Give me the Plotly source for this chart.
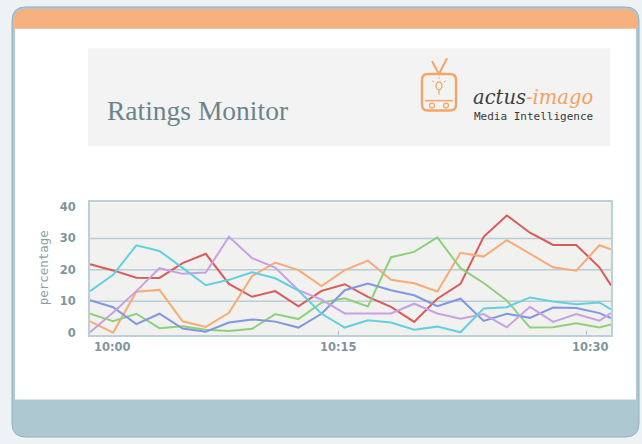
import plotly.graph_objects as go

# ---------------- data ----------------
times = ["10:00:00", "10:01:24", "10:02:48", "10:04:12", "10:05:36", "10:07:00",
         "10:08:24", "10:09:48", "10:11:12", "10:12:36", "10:14:00", "10:15:24",
         "10:16:48", "10:18:12", "10:19:36", "10:21:00", "10:22:24", "10:23:48",
         "10:25:12", "10:26:36", "10:28:00", "10:29:24", "10:30:48", "10:31:30"]

red    = [21.8, 19.8, 17.5, 17.4, 22.1, 25.1, 15.5, 11.4, 13.2, 8.4, 13.3, 15.4,
          11.4, 8.2, 3.4, 10.8, 15.5, 30.5, 37.3, 31.8, 27.9, 27.9, 20.8, 15.0]
orange = [3.6, 0.0, 13.0, 13.6, 3.6, 1.8, 6.3, 18.0, 22.3, 19.9, 14.8, 19.9,
          22.9, 16.8, 15.7, 13.1, 25.4, 24.2, 29.4, 25.2, 20.8, 19.7, 27.8, 26.5]
green  = [6.0, 3.6, 6.0, 1.4, 2.0, 0.9, 0.5, 1.2, 5.9, 4.3, 9.5, 10.9,
          8.3, 24.0, 25.7, 30.3, 20.5, 15.8, 10.2, 1.6, 1.7, 3.0, 1.6, 2.6]
blue   = [10.3, 8.1, 2.7, 6.0, 1.3, 0.3, 3.2, 4.2, 3.5, 1.6, 6.0, 13.5,
          15.6, 13.5, 11.9, 8.4, 10.8, 3.7, 6.0, 4.7, 8.0, 7.8, 6.2, 4.6]
purple = [0.1, 6.4, 13.2, 20.5, 18.7, 19.1, 30.5, 23.7, 20.7, 13.5, 10.5, 6.1,
          6.1, 6.1, 9.2, 6.1, 4.4, 5.9, 1.7, 8.2, 3.4, 5.9, 3.8, 6.2]
cyan   = [13.2, 18.4, 27.8, 26.0, 20.6, 15.1, 16.8, 19.2, 17.3, 13.4, 6.0, 1.6,
          3.9, 3.2, 0.9, 1.9, 0.1, 7.7, 8.1, 11.2, 9.9, 9.0, 9.6, 7.4]

series_names = ["red", "orange", "green", "blue", "purple", "cyan"]
series_values = [red, orange, green, blue, purple, cyan]
series_colors = ["#d95a58", "#f8ab74", "#8dd27b", "#8396e0", "#c7a2e2", "#63cfe1"]

tick_times = ["10:00:00", "10:15:00", "10:30:00"]
tick_labels = ["10:00", "10:15", "10:30"]
y_ticks = [0, 10, 20, 30, 40]
grid_values = [10, 20, 30]

title_text = "Ratings Monitor"
brand_main = "actus"
brand_accent = "-imago"
brand_sub = "Media Intelligence"
y_title = "percentage"

DAY = "2024-01-01 "

# ---------------- layout helpers (pixels -> paper) ----------------
W, H = 642, 444


def px(x):
    return x / W


def py(y):
    return 1 - y / H


def pt(x, y):
    return f"{px(x):.5f},{py(y):.5f}"


def rrect(x0, y0, x1, y1, r, top=True, bottom=True):
    rt = r if top else 0
    rb = r if bottom else 0
    return (f"M {pt(x0 + rt, y0)} L {pt(x1 - rt, y0)} Q {pt(x1, y0)} {pt(x1, y0 + rt)} "
            f"L {pt(x1, y1 - rb)} Q {pt(x1, y1)} {pt(x1 - rb, y1)} "
            f"L {pt(x0 + rb, y1)} Q {pt(x0, y1)} {pt(x0, y1 - rb)} "
            f"L {pt(x0, y0 + rt)} Q {pt(x0, y0)} {pt(x0 + rt, y0)} Z")


fig = go.Figure()

for name, vals, col in zip(series_names, series_values, series_colors):
    fig.add_trace(go.Scatter(
        x=[DAY + t for t in times], y=vals, mode="lines", name=name,
        line=dict(color=col, width=2), hoverinfo="skip", showlegend=False))

shapes = []
# card frame (bottom band colour), orange header, white body
shapes.append(dict(type="path", xref="paper", yref="paper", layer="below",
                   path=rrect(12, 5, 639, 441, 14), fillcolor="#aec8d2",
                   line=dict(color="#97afb9", width=1)))
shapes.append(dict(type="path", xref="paper", yref="paper", layer="below",
                   path=rrect(14, 7, 637, 27, 12, top=True, bottom=False),
                   fillcolor="#f6b17f", line=dict(width=0)))
shapes.append(dict(type="rect", xref="paper", yref="paper", layer="below",
                   x0=px(15), x1=px(636), y0=py(403), y1=py(27),
                   fillcolor="#ffffff", line=dict(width=0)))
# title box
shapes.append(dict(type="rect", xref="paper", yref="paper", layer="below",
                   x0=px(88), x1=px(610), y0=py(146), y1=py(47),
                   fillcolor="#f3f3f3", line=dict(width=0)))
# TV logo
tv = "#f4a668"
shapes.append(dict(type="path", xref="paper", yref="paper", layer="above",
                   path=rrect(422, 73, 456, 110, 6), fillcolor="rgba(0,0,0,0)",
                   line=dict(color=tv, width=2.4)))
shapes.append(dict(type="path", xref="paper", yref="paper", layer="above",
                   path=f"M {pt(432, 60)} L {pt(439, 73)} L {pt(447, 57)}",
                   line=dict(color=tv, width=2)))
shapes.append(dict(type="line", xref="paper", yref="paper", layer="above",
                   x0=px(425), x1=px(453), y0=py(100), y1=py(100),
                   line=dict(color=tv, width=1.5)))
for cx in (432, 446):
    shapes.append(dict(type="circle", xref="paper", yref="paper", layer="above",
                       x0=px(cx - 2.5), x1=px(cx + 2.5), y0=py(107.5), y1=py(102.5),
                       line=dict(color=tv, width=1.3)))
shapes.append(dict(type="circle", xref="paper", yref="paper", layer="above",
                   x0=px(436), x1=px(442), y0=py(89), y1=py(81),
                   line=dict(color=tv, width=1.3)))
shapes.append(dict(type="line", xref="paper", yref="paper", layer="above",
                   x0=px(439), x1=px(439), y0=py(89), y1=py(94),
                   line=dict(color=tv, width=1.3)))
for (a, b, c, d) in [(432, 80, 434, 81), (444, 81, 446, 80), (439, 76, 439, 78)]:
    shapes.append(dict(type="line", xref="paper", yref="paper", layer="above",
                       x0=px(a), y0=py(b), x1=px(c), y1=py(d),
                       line=dict(color=tv, width=1)))
# plot background
shapes.append(dict(type="rect", xref="x domain", yref="y domain", layer="below",
                   x0=0, x1=1, y0=0, y1=1, fillcolor="#f1f1f0", line=dict(width=0)))
fig.update_layout(shapes=shapes)

for g in grid_values:
    fig.add_hline(y=g, line=dict(color="#b8cdd6", width=1.5), layer="below")

label_font = dict(family="DejaVu Sans", size=11.5, color="#7f959e", weight="bold")

annotations = [
    dict(text=title_text, xref="paper", yref="paper", x=px(105), y=py(110),
         xanchor="left", yanchor="middle", showarrow=False,
         font=dict(family="Liberation Serif", size=27.5, color="#6c838c")),
    dict(text=f"{brand_main}<span style='color:#f4a062'>{brand_accent}</span>",
         xref="paper", yref="paper", x=px(471), y=py(97), xanchor="left",
         yanchor="middle", showarrow=False,
         font=dict(family="DejaVu Serif", size=19.5, color="#3f3f3f", style="italic")),
    dict(text=brand_sub, xref="paper", yref="paper", x=px(472), y=py(116),
         xanchor="left", yanchor="middle", showarrow=False,
         font=dict(family="DejaVu Sans Mono", size=11, color="#3a3a3a")),
    dict(text=y_title, xref="paper", yref="paper", x=px(43), y=py(269),
         xanchor="center", yanchor="middle", textangle=-90, showarrow=False,
         font=dict(family="DejaVu Sans Mono", size=12.5, color="#8aa0a8")),
]
anchors = ["left", "center", "right"]
for i, (tt, tl) in enumerate(zip(tick_times, tick_labels)):
    if anchors[i] == "right":
        annotations.append(dict(text=tl, xref="x domain", yref="paper", x=1.0,
                                y=py(350), xanchor="right", yanchor="middle",
                                showarrow=False, font=label_font))
    elif anchors[i] == "left":
        annotations.append(dict(text=tl, xref="x domain", yref="paper", x=0.0,
                                y=py(350), xanchor="left", yanchor="middle",
                                showarrow=False, font=label_font, xshift=2))
    else:
        annotations.append(dict(text=tl, xref="x", yref="paper", x=DAY + tt,
                                y=py(350), xanchor="center", yanchor="middle",
                                showarrow=False, font=label_font))

fig.update_layout(
    width=W, height=H,
    margin=dict(l=0, r=0, t=0, b=0),
    paper_bgcolor="#edf2f5",
    plot_bgcolor="rgba(0,0,0,0)",
    annotations=annotations,
    xaxis=dict(domain=[px(90), px(611)], type="date",
               range=[DAY + times[0], DAY + times[-1]],
               tickvals=[DAY + t for t in tick_times], ticks="inside", ticklen=4,
               tickcolor="#a9bfc8", tickwidth=1, showticklabels=False,
               showgrid=False, zeroline=False, showline=True, mirror=True,
               linecolor="#bcd0d8", linewidth=2, fixedrange=True),
    yaxis=dict(domain=[py(338), py(203)], range=[-0.9, 41.5],
               tickvals=y_ticks, ticks="", ticklabelstandoff=10,
               tickfont=label_font, showgrid=False, zeroline=False,
               showline=True, mirror=True, linecolor="#bcd0d8", linewidth=2,
               fixedrange=True),
)

fig.write_html("out.html", config={"displayModeBar": False},
               post_script="document.body.style.margin='0';"
               "document.body.style.overflow='hidden';")
